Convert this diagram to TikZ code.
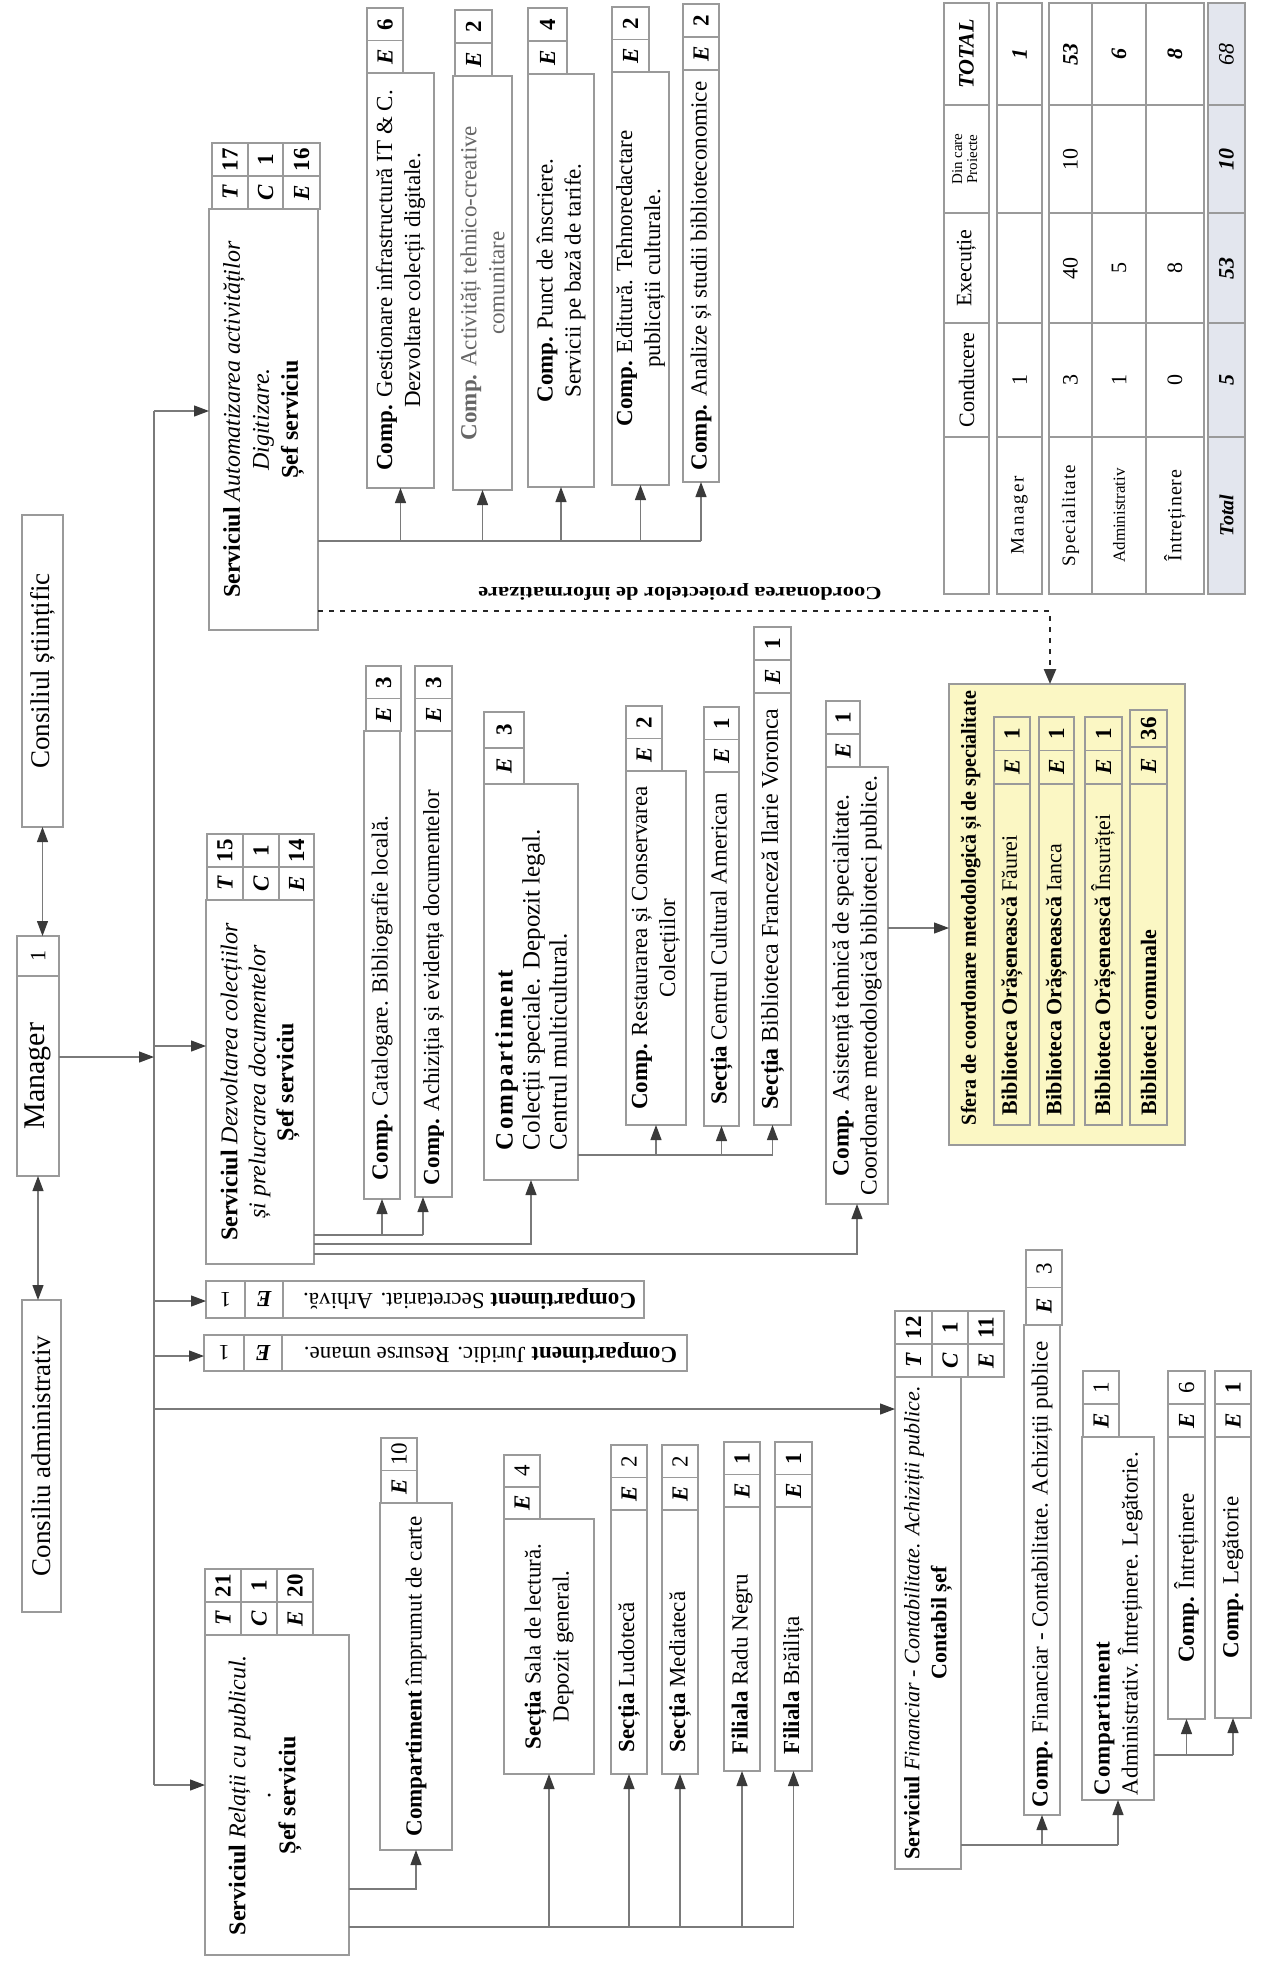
\documentclass[tikz,border=0pt]{standalone}
\usepackage{graphicx}
\usepackage{fontspec}
\setmainfont{Liberation Serif}
\usetikzlibrary{arrows.meta}
\definecolor{bordc}{HTML}{9A9A9A}
\definecolor{linec}{HTML}{7A7A7A}
\definecolor{tipc}{HTML}{3A3A3A}
\definecolor{yelc}{HTML}{FBF7C4}
\definecolor{totc}{HTML}{E3E6EE}
\tikzset{
 bxs/.style={draw=bordc, line width=1.3pt, inner sep=0pt, outer sep=0pt},
 cst/.style={draw=bordc, line width=1.2pt, inner sep=0pt, font=\fontsize{23}{25}\selectfont},
 sct/.style={draw=bordc, line width=1.2pt, inner sep=0pt, font=\fontsize{22}{24}\selectfont},
 ln/.style={draw=linec, line width=1.2pt},
 arr/.style={ln, -{Triangle[length=15pt,width=11pt,color=tipc]}},
 arrtwo/.style={ln, {Triangle[length=15pt,width=11pt,color=tipc]}-{Triangle[length=15pt,width=11pt,color=tipc]}},
 dots/.style={draw=black!85, line width=2.4pt, dash pattern=on 5pt off 6pt, -{Triangle[length=15pt,width=12pt,color=tipc]}},
}
% box with text rotated 90: [pad]{name}{x1}{y1}{x2}{y2}{content}
\newcommand\bx[7][16pt]{%
 \node[bxs, minimum width={(#5-#3)*1pt}, minimum height={(#6-#4)*1pt}] (#2) at ({(#3+#5)/2},{-(#4+#6)/2})
 {\rotatebox{90}{\parbox{\dimexpr#6pt-#4pt-#1\relax}{\fontsize{23}{28}\selectfont #7}}};}
% horizontal box with free content
\newcommand\hbx[6]{%
 \node[bxs, minimum width={(#4-#2)*1pt}, minimum height={(#5-#3)*1pt}] (#1) at ({(#2+#4)/2},{-(#3+#5)/2}) {#6};}
% letter/number cell pair: {name}{x1}{y1}{x2}{y2}{letter}{number}
\newcommand\cellp[7]{%
 \node[cst, minimum width={(#4-#2)*1pt}, minimum height={(#5-#3)*0.5pt}] (#1n) at ({(#2+#4)/2},{-(3*#3+#5)/4}) {\rotatebox{90}{#7}};
 \node[cst, minimum width={(#4-#2)*1pt}, minimum height={(#5-#3)*0.5pt}] (#1l) at ({(#2+#4)/2},{-(#3+3*#5)/4}) {\rotatebox{90}{#6}};}
% stats table cell
\newcommand\scell[7][]{%
 \node[sct,#1, minimum width={(#5-#3)*1pt}, minimum height={(#6-#4)*1pt}] (#2) at ({(#3+#5)/2},{-(#4+#6)/2}) {\rotatebox{90}{#7}};}
\newcommand\LT[1]{\textbf{\textit{#1}}}
\newcommand\SP[1]{\textbf{\addfontfeature{LetterSpace=8}#1}}
\begin{document}
\begin{tikzpicture}[x=1pt,y=1pt]
\useasboundingbox (0,0) rectangle (1263,-1974);
\fill[white] (0,0) rectangle (1263,-1974);

% ---------- top level
\bx{cs}{22}{515}{63}{827}{\centering\fontsize{27}{30}\selectfont Consiliul științific}
\bx[4pt]{mgr1}{17}{936}{59}{976}{\centering\fontsize{22}{24}\selectfont 1}
\bx{mgr}{17}{976}{59}{1176}{\centering\fontsize{30}{32}\selectfont Manager}
\bx{ca}{22}{1300}{61}{1612}{\centering\fontsize{27}{30}\selectfont Consiliu administrativ}

% ---------- Serviciul Automatizare
\bx{sa}{209}{209}{318}{630}{\centering\fontsize{24}{29}\selectfont\textbf{Serviciul} \textit{Automatizarea activităților}\\ \textit{Digitizare.}\\ \textbf{Șef serviciu}}
\cellp{saT}{212}{143}{248}{209}{\LT{T}}{\textbf{17}}
\cellp{saC}{248}{143}{283}{209}{\LT{C}}{\textbf{1}}
\cellp{saE}{283}{143}{320}{209}{\LT{E}}{\textbf{16}}

\bx[10pt]{g1}{367}{73}{434}{488}{\centering\textbf{Comp.} Gestionare infrastructură IT \& C.\\ Dezvoltare colecții digitale.}
\cellp{g1c}{367}{8}{403}{73}{\LT{E}}{\textbf{6}}
\bx{g2}{453}{76}{512}{490}{\centering\color{black!60}\textbf{Comp.} Activități tehnico-creative\\ comunitare}
\cellp{g2c}{455}{10}{492}{76}{\LT{E}}{\textbf{2}}
\bx{g3}{528}{74}{594}{487}{\centering\textbf{Comp.} Punct de înscriere.\\ Servicii pe bază de tarife.}
\cellp{g3c}{528}{8}{567}{74}{\LT{E}}{\textbf{4}}
\bx{g4}{612}{72}{669}{485}{\centering\textbf{Comp.} Editură. Tehnoredactare\\ publicații culturale.}
\cellp{g4c}{612}{7}{649}{72}{\LT{E}}{\textbf{2}}
\bx{g5}{683}{70}{719}{482}{\centering\textbf{Comp.} Analize și studii biblioteconomice}
\cellp{g5c}{683}{4}{719}{70}{\LT{E}}{\textbf{2}}

% ---------- Serviciul Dezvoltare
\bx{sd}{206}{900}{314}{1264}{\centering\fontsize{24}{28}\selectfont\textbf{Serviciul} \textit{Dezvoltarea colecțiilor}\\ \textit{și prelucrarea documentelor}\\ \textbf{Șef serviciu}}
\cellp{sdT}{207}{834}{243}{900}{\LT{T}}{\textbf{15}}
\cellp{sdC}{243}{834}{279}{900}{\LT{C}}{\textbf{1}}
\cellp{sdE}{279}{834}{314}{900}{\LT{E}}{\textbf{14}}

\bx[38pt]{cat}{364}{731}{400}{1199}{\raggedright\textbf{Comp.} Catalogare. Bibliografie locală.}
\cellp{catc}{366}{666}{401}{731}{\LT{E}}{\textbf{3}}
\bx[24pt]{ach}{415}{731}{452}{1197}{\raggedright\textbf{Comp.} Achiziția și evidența documentelor}
\cellp{achc}{415}{666}{452}{731}{\LT{E}}{\textbf{3}}
\bx[60pt]{col}{484}{784}{578}{1180}{\raggedright\fontsize{25}{27}\selectfont\SP{Compartiment}\\ Colecții speciale. Depozit legal.\\ Centrul multicultural.}
\cellp{colc}{484}{712}{524}{784}{\LT{E}}{\textbf{3}}
\bx[8pt]{res}{626}{771}{686}{1125}{\centering\textbf{Comp.} Restaurarea și Conservarea\\ Colecțiilor}
\cellp{resc}{626}{706}{662}{771}{\LT{E}}{\textbf{2}}
\bx{cca}{704}{772}{739}{1126}{\centering\textbf{Secția} Centrul Cultural American}
\cellp{ccac}{704}{707}{739}{772}{\LT{E}}{\textbf{1}}
\bx[16pt]{bfr}{754}{693}{791}{1125}{\centering\fontsize{24}{28}\selectfont\textbf{Secția} Biblioteca Franceză Ilarie Voronca}
\cellp{bfrc}{754}{627}{791}{693}{\LT{E}}{\textbf{1}}
\bx[8pt]{asi}{826}{767}{888}{1204}{\centering\fontsize{23.5}{28}\selectfont\textbf{Comp.} Asistență tehnică de specialitate.\\ Coordonare metodologică biblioteci publice.}
\cellp{asic}{826}{701}{860}{767}{\LT{E}}{\textbf{1}}

% ---------- yellow sphere
\begin{scope}[bxs/.append style={fill=yelc}, cst/.append style={fill=yelc}]
\bx{yel}{949}{684}{1185}{1145}{}
\node[inner sep=0pt] (yelt) at (971,-908) {\rotatebox{90}{\resizebox{434pt}{15pt}{\fontsize{20}{22}\selectfont\bfseries Sfera de coordonare metodologică și de specialitate}}};
\bx[20pt]{ya}{994}{784}{1030}{1125}{\raggedright\fontsize{22}{26}\selectfont\textbf{Biblioteca Orășenească} Făurei}
\cellp{yac}{994}{717}{1030}{784}{\LT{E}}{\textbf{1}}
\bx[20pt]{yb}{1039}{784}{1074}{1125}{\raggedright\fontsize{22}{26}\selectfont\textbf{Biblioteca Orășenească} Ianca}
\cellp{ybc}{1039}{717}{1074}{784}{\LT{E}}{\textbf{1}}
\bx[20pt]{yc}{1085}{784}{1122}{1125}{\raggedright\fontsize{22}{26}\selectfont\textbf{Biblioteca Orășenească} Însurăței}
\cellp{ycc}{1085}{717}{1122}{784}{\LT{E}}{\textbf{1}}
\bx[20pt]{yd}{1130}{784}{1167}{1125}{\raggedright\fontsize{22}{26}\selectfont\textbf{Biblioteci comunale}}
\cellp{ydc}{1130}{710}{1167}{784}{\LT{E}}{\textbf{36}}
\end{scope}

% ---------- Secretariat / Juridic (text upside down)
\hbx{sec}{206}{1281}{644}{1318}{}
\hbx{secn}{206}{1281}{245}{1318}{\fontsize{22}{24}\selectfont\rotatebox{180}{1}}
\hbx{sece}{245}{1281}{283}{1318}{\fontsize{23}{24}\selectfont\rotatebox{180}{\LT{E}}}
\hbx{sect}{283}{1281}{644}{1318}{\rotatebox{180}{\parbox{\dimexpr644pt-283pt-16pt\relax}{\raggedright\fontsize{23}{26}\selectfont\textbf{Compartiment} Secretariat. Arhivă.}}}
\hbx{jur}{204}{1335}{687}{1371}{}
\hbx{jurn}{204}{1335}{244}{1371}{\fontsize{22}{24}\selectfont\rotatebox{180}{1}}
\hbx{jure}{244}{1335}{282}{1371}{\fontsize{23}{24}\selectfont\rotatebox{180}{\LT{E}}}
\hbx{jurt}{282}{1335}{687}{1371}{\rotatebox{180}{\parbox{\dimexpr687pt-282pt-20pt\relax}{\raggedright\fontsize{23}{26}\selectfont\textbf{Compartiment} Juridic. Resurse umane.}}}

% ---------- Serviciul Relatii
\bx[12pt]{rel}{205}{1635}{349}{1955}{\centering\fontsize{24}{25}\selectfont\textbf{Serviciul} \textit{Relații cu publicul.}\\ .\\ \textbf{Șef serviciu}\par\vspace{24pt}}
\cellp{relT}{205}{1569}{241}{1635}{\LT{T}}{\textbf{21}}
\cellp{relC}{241}{1569}{277}{1635}{\LT{C}}{\textbf{1}}
\cellp{relE}{277}{1569}{313}{1635}{\LT{E}}{\textbf{20}}

\bx[8pt]{imp}{380}{1503}{452}{1850}{\centering\textbf{Compartiment} împrumut de carte}
\cellp{impc}{381}{1438}{417}{1503}{\LT{E}}{10}
\bx[10pt]{sal}{504}{1519}{594}{1774}{\centering\textbf{Secția} Sala de lectură.\\ Depozit general.}
\cellp{salc}{504}{1455}{540}{1519}{\LT{E}}{4}
\bx[44pt]{lud}{611}{1510}{647}{1774}{\raggedright\textbf{Secția} Ludotecă}
\cellp{ludc}{611}{1445}{647}{1510}{\LT{E}}{2}
\bx[44pt]{med}{662}{1510}{698}{1774}{\raggedright\textbf{Secția} Mediatecă}
\cellp{medc}{662}{1445}{698}{1510}{\LT{E}}{2}
\bx[34pt]{frn}{724}{1507}{760}{1771}{\raggedright\textbf{Filiala} Radu Negru}
\cellp{frnc}{724}{1442}{760}{1507}{\LT{E}}{\textbf{1}}
\bx[34pt]{fbr}{775}{1507}{812}{1771}{\raggedright\textbf{Filiala} Brăilița}
\cellp{fbrc}{775}{1442}{812}{1507}{\LT{E}}{\textbf{1}}

% ---------- Serviciul Financiar
\bx[4pt]{fin}{895}{1377}{961}{1869}{\centering\fontsize{22}{27}\selectfont\textbf{Serviciul} \textit{Financiar - Contabilitate. Achiziții publice.}\\ \textbf{Contabil șef}}
\cellp{finT}{895}{1311}{932}{1377}{\LT{T}}{\textbf{12}}
\cellp{finC}{932}{1311}{968}{1377}{\LT{C}}{\textbf{1}}
\cellp{finE}{968}{1311}{1004}{1377}{\LT{E}}{\textbf{11}}

\bx[16pt]{cfin}{1024}{1325}{1060}{1815}{\raggedright\textbf{Comp.} Financiar - Contabilitate. Achiziții publice}
\cellp{cfinc}{1026}{1250}{1062}{1325}{\LT{E}}{3}
\bx[10pt]{cadm}{1082}{1437}{1154}{1800}{\raggedright\textbf{\addfontfeature{LetterSpace=3}Compartiment}\\ Administrativ. Întreținere. Legătorie.}
\cellp{cadmc}{1083}{1371}{1119}{1437}{\LT{E}}{1}
\bx{cint}{1168}{1437}{1205}{1719}{\centering\textbf{Comp.} Întreținere}
\cellp{cintc}{1168}{1371}{1205}{1437}{\LT{E}}{6}
\bx{cleg}{1215}{1437}{1251}{1718}{\centering\textbf{Comp.} Legătorie}
\cellp{clegc}{1215}{1371}{1251}{1437}{\LT{E}}{\textbf{1}}

% ---------- statistics table
\scell{h0}{944}{437}{989}{594}{}
\scell{h1}{944}{323}{989}{437}{Conducere}
\scell{h2}{944}{213}{989}{323}{Execuție}
\scell{h3}{944}{105}{989}{213}{\fontsize{15}{15}\selectfont\begin{tabular}{@{}c@{}}Din care\\Proiecte\end{tabular}}
\scell{h4}{944}{3}{989}{105}{\LT{TOTAL}}
\scell{m0}{997}{437}{1042}{594}{\fontsize{19}{20}\selectfont\addfontfeature{LetterSpace=10}Manager}
\scell{m1}{997}{323}{1042}{437}{1}
\scell{m2}{997}{213}{1042}{323}{}
\scell{m3}{997}{105}{1042}{213}{}
\scell{m4}{997}{3}{1042}{105}{\LT{1}}
\scell{s0}{1049}{437}{1092}{594}{\fontsize{19}{20}\selectfont\addfontfeature{LetterSpace=6}Specialitate}
\scell{s1}{1049}{323}{1092}{437}{3}
\scell{s2}{1049}{213}{1092}{323}{40}
\scell{s3}{1049}{105}{1092}{213}{10}
\scell{s4}{1049}{3}{1092}{105}{\LT{53}}
\scell{a0}{1092}{437}{1146}{594}{\fontsize{17}{18}\selectfont Administrativ}
\scell{a1}{1092}{323}{1146}{437}{1}
\scell{a2}{1092}{213}{1146}{323}{5}
\scell{a3}{1092}{105}{1146}{213}{}
\scell{a4}{1092}{3}{1146}{105}{\LT{6}}
\scell{i0}{1146}{437}{1204}{594}{\fontsize{20}{21}\selectfont\addfontfeature{LetterSpace=4}Întreținere}
\scell{i1}{1146}{323}{1204}{437}{0}
\scell{i2}{1146}{213}{1204}{323}{8}
\scell{i3}{1146}{105}{1204}{213}{}
\scell{i4}{1146}{3}{1204}{105}{\LT{8}}
\scell[fill=totc]{t0}{1208}{437}{1245}{594}{\fontsize{20}{21}\selectfont\LT{Total}}
\scell[fill=totc]{t1}{1208}{323}{1245}{437}{\LT{5}}
\scell[fill=totc]{t2}{1208}{213}{1245}{323}{\LT{53}}
\scell[fill=totc]{t3}{1208}{105}{1245}{213}{\LT{10}}
\scell[fill=totc]{t4}{1208}{3}{1245}{105}{\textit{68}}

% ---------- connectors
\draw[arrtwo] (cs.south) -- (cs.south |- mgr1.north);
\draw[arrtwo] (mgr.south) -- (mgr.south |- ca.north);

\coordinate (tA) at (154,-411);
\coordinate (tM) at (154,-1057);
\coordinate (tD) at (154,-1046);
\coordinate (tS) at (154,-1301);
\coordinate (tJ) at (154,-1356);
\coordinate (tF) at (154,-1409);
\coordinate (tR) at (154,-1785);
\draw[ln] (tA) -- (tR);
\draw[arr] (tA) -- (tA -| sa.west);
\draw[arr] (mgr.east |- tM) -- (tM);
\draw[arr] (tD) -- (tD -| sd.west);
\draw[arr] (tS) -- (tS -| sec.west);
\draw[arr] (tJ) -- (tJ -| jur.west);
\draw[arr] (tF) -- (tF -| fin.west);
\draw[arr] (tR) -- (tR -| rel.west);

% Automatizare children
\coordinate (saY) at (0,-541);
\draw[ln] (sa.east |- saY) -- (g5.south |- saY);
\foreach \c in {g1,g2,g3,g4,g5} \draw[arr] (\c.south |- saY) -- (\c.south);

% dotted coordination
\coordinate (dotY) at (0,-611);
\coordinate (dotX) at (1050,0);
\draw[dots] (sa.east |- dotY) -- (dotX |- dotY) -- (dotX |- yel.north);
\node[inner sep=0pt] (dotlab) at (680,-592) {\rotatebox{180}{\resizebox{403pt}{13pt}{\fontsize{18}{20}\selectfont\bfseries Coordonarea proiectelor de informatizare}}};

% Dezvoltare children
\coordinate (sdY1) at (0,-1235);
\coordinate (sdY2) at (0,-1244);
\coordinate (sdY3) at (0,-1254);
\coordinate (achX) at (423,0);
\draw[ln] (sd.east |- sdY1) -- (achX |- sdY1);
\draw[arr] (cat.south |- sdY1) -- (cat.south);
\draw[arr] (achX |- sdY1) -- (achX |- ach.south);
\draw[arr] (sd.east |- sdY2) -| (col.south);
\draw[arr] (sd.east |- sdY3) -| (asi.south);

\coordinate (colY) at (0,-1155);
\draw[ln] (col.east |- colY) -- (bfr.south |- colY);
\foreach \c in {res,cca,bfr} \draw[arr] (\c.south |- colY) -- (\c.south);

\coordinate (asiY) at (0,-928);
\draw[arr] (asi.east |- asiY) -- (yel.west |- asiY);

% Relatii children
\coordinate (relY1) at (0,-1889);
\coordinate (relY2) at (0,-1927);
\draw[arr] (rel.east |- relY1) -| (imp.south);
\draw[ln] (rel.east |- relY2) -- (fbr.south |- relY2);
\foreach \c in {sal,lud,med,frn,fbr} \draw[arr] (\c.south |- relY2) -- (\c.south);

% Financiar children
\coordinate (finY) at (0,-1845);
\draw[ln] (fin.east |- finY) -- (cadm.south |- finY);
\foreach \c in {cfin,cadm} \draw[arr] (\c.south |- finY) -- (\c.south);
\coordinate (admY) at (0,-1755);
\draw[ln] (cadm.east |- admY) -- (cleg.south |- admY);
\foreach \c in {cint,cleg} \draw[arr] (\c.south |- admY) -- (\c.south);
\end{tikzpicture}
\end{document}
